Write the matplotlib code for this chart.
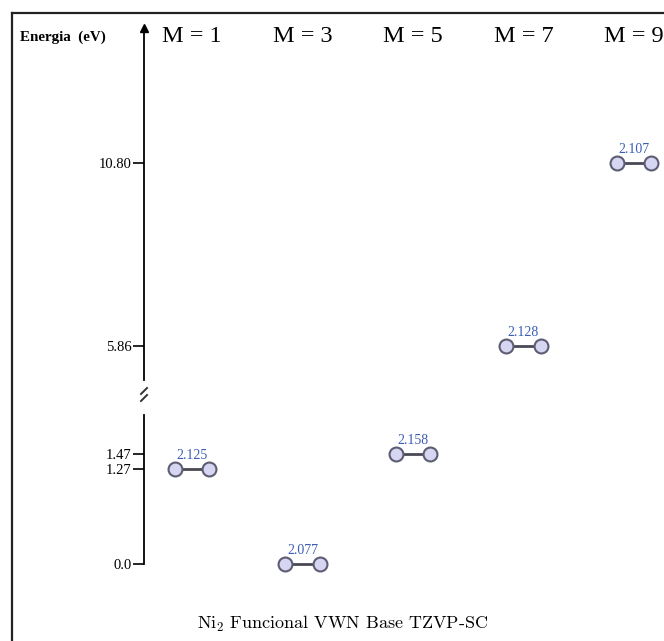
import matplotlib
matplotlib.use("Agg")
import matplotlib.pyplot as plt
import matplotlib.transforms as mtransforms
from matplotlib.lines import Line2D

plt.rcParams['mathtext.fontset'] = 'cm'

# ---- data ----
multiplicities = ["M = 1", "M = 3", "M = 5", "M = 7", "M = 9"]
energies = [1.27, 0.0, 1.47, 5.86, 10.80]
bond_lengths = ["2.125", "2.077", "2.158", "2.128", "2.107"]
ticks_low = [0.0, 1.27, 1.47]
tick_labels_low = ["0.0", "1.27", "1.47"]
ticks_high = [5.86, 10.80]
tick_labels_high = ["5.86", "10.80"]
title = r"$\mathrm{Ni}_2$ Funcional VWN Base TZVP-SC"
ylabel = "Energia  (eV)"

W, H = 664, 641
fig = plt.figure(figsize=(W / 100, H / 100), dpi=100)
fig.patch.set_facecolor("white")

def fx(px):
    return px / W

def fy(py):
    return 1 - py / H

serif = ["Liberation Serif", "DejaVu Serif"]

ax_lo = fig.add_axes([fx(144), fy(564), fx(664) - fx(144), (564 - 415) / H])
ax_hi = fig.add_axes([fx(144), fy(380), fx(664) - fx(144), (380 - 28) / H])

xlim = ((144 - 192) / 110.5, (664 - 192) / 110.5)
ax_lo.set_xlim(*xlim)
ax_hi.set_xlim(*xlim)
ax_lo.set_ylim(0, 149 / 75)
ax_hi.set_ylim(5.86 - 34 / 37.04, 10.80 + 135 / 37.04)

for ax, tks, tls in ((ax_lo, ticks_low, tick_labels_low), (ax_hi, ticks_high, tick_labels_high)):
    for s in ("top", "right", "bottom"):
        ax.spines[s].set_visible(False)
    ax.spines["left"].set_linewidth(1.3)
    ax.patch.set_alpha(0)
    ax.set_xticks([])
    ax.set_yticks(tks)
    ax.set_yticklabels(tls, fontfamily=serif, fontsize=10.5)
    ax.tick_params(axis="y", direction="out", length=8, width=1.2, pad=1)

# arrow head on top of the axis
ax_hi.plot([0], [1], marker="^", color="black", ms=6, transform=ax_hi.transAxes, clip_on=False)

# break marks
for y0 in (388, 395):
    fig.add_artist(Line2D([fx(141), fx(147)], [fy(y0 + 6), fy(y0)], color="#333333", lw=1.4))

# molecules
for i, (e, bl) in enumerate(zip(energies, bond_lengths)):
    ax = ax_hi if e > 3 else ax_lo
    ax.plot([i - 0.155, i + 0.155], [e, e], "-", color="#4a4a55", lw=2,
            marker="o", mfc="#d6d6f2", mec="#5c5c72", ms=10, mew=1.5, clip_on=False)
    ax.annotate(bl, (i, e), xytext=(0, 5), textcoords="offset points",
                ha="center", va="bottom", fontsize=10, color="#3a5cb5",
                fontfamily=serif, annotation_clip=False)

# column labels
tr = mtransforms.blended_transform_factory(ax_hi.transData, fig.transFigure)
for i, m in enumerate(multiplicities):
    ax_hi.text(i, fy(36), m, transform=tr, ha="center", va="center",
               fontsize=17.5, fontfamily=serif)

fig.text(fx(20), fy(37), ylabel, ha="left", va="center", fontsize=10.8,
         fontweight="bold", fontfamily=serif)

fig.text(fx(343), fy(624), title, ha="center", va="center", fontsize=13,
         fontfamily="cmr10")

# frame
fig.add_artist(Line2D([fx(12), fx(12)], [fy(641), fy(13)], color="#222222", lw=1.6))
fig.add_artist(Line2D([fx(12), fx(664)], [fy(13), fy(13)], color="#222222", lw=1.6))

fig.savefig("out.png", dpi=100)
